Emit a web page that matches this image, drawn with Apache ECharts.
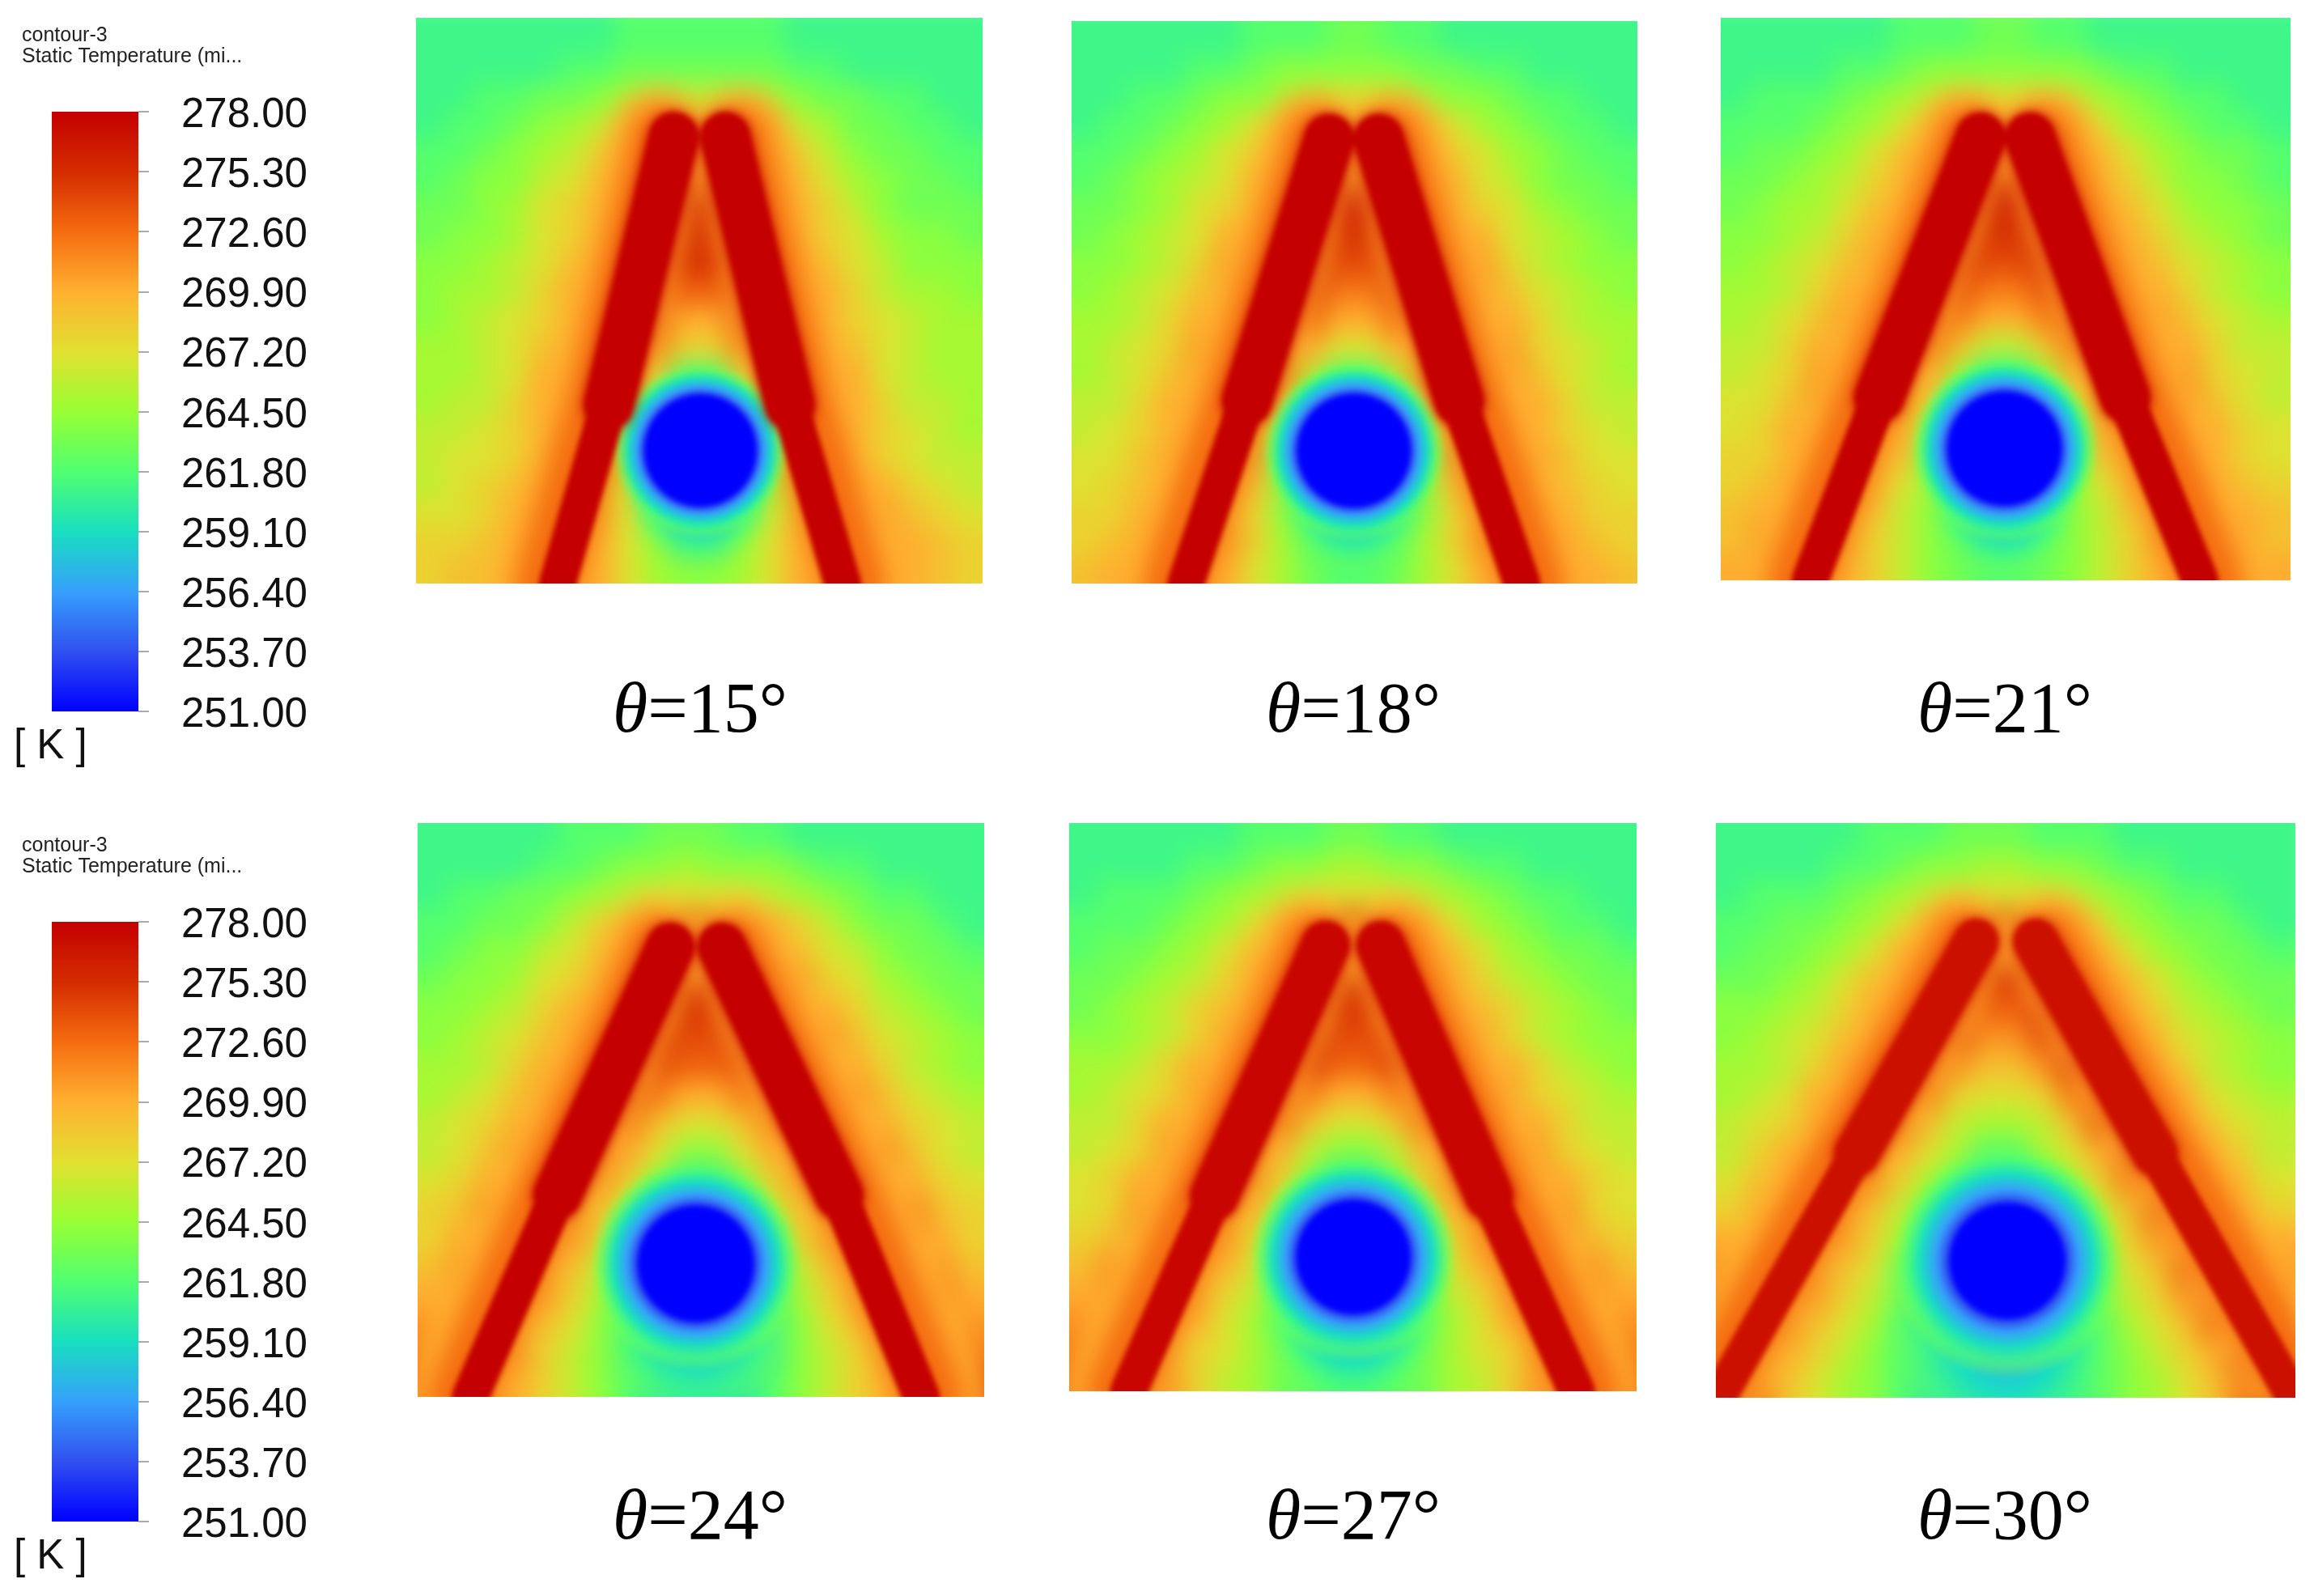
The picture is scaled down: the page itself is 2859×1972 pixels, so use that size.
<!DOCTYPE html>
<html>
<head>
<meta charset="utf-8">
<title>Static temperature contours</title>
<script src="https://cdn.jsdelivr.net/npm/echarts@6/dist/echarts.min.js"></script>
<style>
  html, body { margin: 0; padding: 0; background: #fff; }
  .layer { position: absolute; left: 0; top: 0; width: 2859px; height: 1972px; }
  #fieldLayer { filter: blur(15px); }
  #markLayer { filter: blur(3px); }
</style>
</head>
<body>
<div id="fieldLayer" class="layer"></div>
<div id="markLayer" class="layer"></div>
<div id="textLayer" class="layer"></div>
<script>
// ===== Data =====
const angles = [15, 18, 21, 24, 27, 30];
const tickValues = [278, 275.3, 272.6, 269.9, 267.2, 264.5, 261.8, 259.1, 256.4, 253.7, 251];
const tickColors = ['#c40000', '#d42c00', '#f56c10', '#ffb030', '#e2e030', '#98ff34', '#50ff70', '#18dfc0', '#36a0fc', '#3050f0', '#0000ff'];

// temperature cells, 20 rows of 20, top row first
const field15 = [
[261,261,261,261,261,261,261,262,262,262,262,262,262,261,261,261,261,261,261,261],
[261,261,261,261,261,262,262,263,263,263,263,263,263,262,262,261,261,261,261,261],
[261,261,262,262,263,263,264,265,266,266,266,266,265,264,263,263,262,262,261,261],
[261,262,262,263,264,265,266,268,272,275,275,272,268,266,265,263,263,262,262,261],
[262,262,263,264,265,266,268,271,278,278,278,278,271,268,266,264,263,263,262,262],
[262,263,264,264,266,267,269,273,278,278,277,278,273,269,267,265,264,263,263,262],
[263,263,264,265,267,268,270,275,278,276,276,278,275,270,268,266,264,263,263,263],
[263,264,264,265,267,268,272,277,278,275,275,278,277,272,268,267,265,264,264,263],
[264,264,265,266,267,269,273,278,278,275,275,278,278,273,269,267,266,264,264,264],
[264,265,265,266,268,270,274,278,276,273,273,276,278,274,270,268,266,265,265,264],
[264,265,266,267,268,270,276,278,274,270,270,274,278,276,270,268,267,266,265,265],
[265,265,266,267,269,272,277,278,272,268,268,272,278,277,272,269,267,266,265,265],
[265,265,266,267,270,273,278,278,268,262,262,268,278,278,273,270,267,266,265,265],
[265,266,266,268,270,273,278,277,263,253,253,263,277,278,273,270,268,266,266,265],
[266,266,267,268,270,273,278,267,254,251,251,254,267,278,273,270,268,267,266,265],
[266,267,267,268,270,275,278,264,252,251,251,252,264,278,277,271,268,267,266,266],
[266,267,268,269,271,277,277,266,255,251,251,255,265,274,278,273,270,268,267,266],
[267,267,268,270,273,278,272,267,261,255,255,261,266,270,278,276,271,269,268,267],
[268,268,269,270,274,278,270,267,264,260,260,264,267,270,277,278,272,270,269,268],
[268,269,269,271,275,278,270,267,265,264,264,265,267,270,277,278,273,270,269,268]];
const field18 = [
[261,261,261,261,261,261,262,262,262,263,263,262,262,261,261,261,261,261,261,261],
[261,261,261,261,262,262,263,264,264,264,264,264,263,263,262,262,261,261,261,261],
[261,261,262,262,263,264,264,265,266,267,267,266,265,264,264,263,262,262,261,261],
[261,262,262,263,264,265,267,269,273,275,275,273,269,267,265,264,263,262,262,261],
[262,262,263,264,265,267,268,272,278,278,278,278,272,268,267,265,264,263,262,262],
[262,263,264,265,266,267,270,274,278,278,277,278,274,270,267,266,264,263,263,262],
[263,263,264,265,267,268,272,277,278,277,277,278,277,272,268,267,265,264,263,263],
[263,264,265,266,267,270,274,278,278,275,275,278,278,274,270,267,266,265,264,263],
[264,264,265,266,268,271,276,278,277,274,274,277,278,276,271,268,266,265,264,264],
[264,265,266,267,269,272,277,278,275,272,272,275,278,277,272,269,267,266,265,264],
[265,265,266,268,270,274,278,277,273,270,270,273,277,278,274,270,268,266,265,265],
[265,266,267,268,271,276,278,276,270,267,267,270,276,278,276,271,268,267,266,265],
[265,266,267,269,272,277,278,273,266,262,262,266,273,278,277,272,269,267,266,265],
[266,266,268,270,273,278,278,270,262,254,254,262,270,278,278,273,270,268,266,266],
[266,267,268,270,275,278,276,266,255,251,251,255,266,276,278,275,270,268,267,266],
[267,267,269,271,277,278,271,263,252,251,251,252,263,271,278,277,271,269,267,267],
[267,268,269,272,278,278,269,264,255,251,251,255,264,269,278,278,272,269,268,267],
[268,268,270,274,278,276,268,264,260,255,255,260,264,268,276,278,274,270,268,268],
[268,269,271,276,278,272,268,265,262,260,260,262,265,268,272,278,276,271,269,268],
[269,270,272,277,278,270,267,265,263,262,262,263,265,267,270,278,277,272,270,269]];
const field21 = [
[261,261,261,261,261,261,262,262,262,263,263,262,262,261,261,261,261,261,261,261],
[261,261,261,261,262,262,263,264,264,264,264,264,264,263,262,262,261,261,261,261],
[261,262,262,262,263,264,265,266,267,267,267,267,266,265,264,263,262,262,261,261],
[262,262,262,263,264,265,267,270,273,275,275,273,270,267,265,264,263,262,262,261],
[262,263,263,264,265,267,269,272,278,278,278,278,272,269,267,265,264,263,263,262],
[263,263,264,265,266,268,270,276,278,278,277,278,276,270,268,266,264,264,263,262],
[263,264,265,265,267,269,272,278,278,276,276,278,278,272,269,267,265,264,264,263],
[264,264,265,266,268,270,275,278,278,275,275,278,278,275,270,268,266,265,264,263],
[264,265,266,267,269,272,277,278,276,274,274,276,278,277,272,269,267,266,265,264],
[265,265,266,268,270,274,278,278,274,272,272,274,278,278,274,270,268,266,265,264],
[265,266,267,269,271,276,278,276,272,270,270,272,276,278,276,271,269,267,266,265],
[266,266,268,270,273,278,278,273,269,266,266,269,273,278,278,273,270,268,266,266],
[266,267,268,271,275,278,276,270,265,261,261,265,270,276,278,275,271,268,267,266],
[267,267,269,272,277,278,272,268,261,254,254,261,267,272,278,277,272,269,267,266],
[267,268,270,274,278,277,270,265,256,251,251,256,264,270,277,278,274,270,268,267],
[268,268,270,276,278,273,269,263,253,251,251,253,263,269,273,278,276,270,268,267],
[268,269,272,277,278,270,267,264,256,251,251,256,264,267,270,278,277,272,269,268],
[269,270,274,278,277,269,266,264,260,255,255,260,264,266,269,277,278,274,270,269],
[269,271,276,278,272,268,266,264,262,259,259,262,264,266,268,272,278,276,271,269],
[270,272,277,278,270,268,266,264,263,262,262,263,264,266,268,270,278,277,272,270]];
const field24 = [
[261,261,261,261,261,262,262,262,263,263,263,262,262,261,261,261,261,261,261,261],
[261,261,261,261,262,262,263,264,264,265,264,264,264,263,262,262,261,261,261,261],
[261,262,262,263,263,264,265,266,267,267,267,267,266,265,264,263,262,262,261,261],
[262,262,263,263,264,266,268,270,274,275,275,274,270,268,266,264,263,263,262,261],
[262,263,264,264,266,267,269,274,278,278,278,278,274,269,267,266,264,263,263,262],
[263,264,264,265,267,268,272,277,278,276,276,278,277,272,268,267,265,264,263,263],
[264,264,265,266,268,270,275,278,278,275,275,278,278,275,270,268,266,265,264,263],
[264,265,266,267,269,272,278,278,276,274,274,276,278,278,272,269,267,266,265,264],
[265,265,266,268,270,275,278,278,274,273,273,274,278,278,275,270,268,266,265,264],
[265,266,267,269,272,277,278,275,272,270,270,272,275,278,277,272,269,267,266,265],
[266,267,268,270,274,278,278,272,269,267,267,269,272,278,278,274,270,268,267,266],
[266,267,269,272,276,278,274,270,267,264,264,267,270,274,278,276,272,269,267,266],
[267,268,270,274,278,278,271,268,264,260,260,264,268,271,278,278,274,270,268,267],
[268,269,272,276,278,274,269,266,260,254,254,260,266,269,274,278,276,272,269,268],
[268,270,274,278,278,271,268,263,255,251,251,255,263,268,271,278,278,274,270,268],
[269,271,276,278,274,269,266,261,252,251,251,252,261,266,269,274,278,276,271,269],
[270,273,278,278,271,268,265,261,255,251,251,255,261,265,268,271,278,278,273,270],
[271,275,278,275,269,267,264,261,258,255,255,258,261,264,267,269,275,278,275,271],
[272,277,278,272,268,266,264,261,259,258,258,259,261,264,266,268,272,278,277,272],
[274,278,277,270,268,266,264,262,260,259,259,260,262,264,266,268,270,277,278,274]];
const field27 = [
[261,261,261,261,261,261,262,262,262,263,263,262,262,261,261,261,261,261,261,261],
[261,261,261,261,262,262,263,264,264,265,265,264,264,263,262,262,261,261,261,261],
[261,262,262,262,263,264,265,266,267,267,267,267,266,265,264,263,262,262,261,261],
[262,262,262,263,264,265,267,270,275,276,276,275,270,267,265,264,263,262,262,261],
[262,263,263,264,265,267,269,274,278,278,278,278,274,269,267,265,264,263,263,262],
[263,263,264,265,266,268,271,277,278,276,276,278,277,271,268,266,265,264,263,263],
[263,264,265,266,268,269,273,278,278,275,275,278,278,273,269,268,266,265,264,263],
[264,264,265,266,268,271,277,278,277,274,274,277,278,277,271,268,266,265,264,264],
[265,265,266,268,270,273,278,278,275,273,273,275,278,278,273,270,268,266,265,264],
[265,266,267,268,271,276,278,276,272,270,270,272,276,278,276,271,268,267,266,265],
[266,266,268,270,273,278,278,273,269,267,267,269,273,278,278,273,270,268,266,266],
[266,267,268,271,275,278,275,270,266,264,264,266,270,275,278,275,271,268,267,266],
[267,268,270,273,278,278,272,268,264,260,260,264,268,272,278,278,273,270,268,267],
[267,268,271,275,278,275,270,266,260,254,254,260,266,270,275,278,275,271,268,267],
[268,269,273,278,278,272,268,264,256,251,251,256,264,268,272,278,278,273,269,268],
[269,271,275,278,275,270,267,262,253,251,251,253,262,267,270,275,278,275,271,269],
[270,272,277,278,272,268,266,262,256,251,251,256,262,266,268,272,278,277,272,270],
[271,274,278,276,270,267,265,262,259,255,255,259,262,265,267,270,276,278,274,271],
[272,276,278,273,268,267,265,263,261,259,259,261,263,265,267,268,273,278,276,272],
[273,278,278,271,268,266,265,263,262,261,261,262,263,265,266,268,271,278,278,273]];
const field30 = [
[261,261,261,261,261,262,262,262,263,263,263,262,262,262,261,261,261,261,261,261],
[261,261,261,261,262,262,263,264,264,265,265,264,264,263,262,262,261,261,261,261],
[261,262,262,262,263,264,265,266,267,267,267,267,266,265,264,263,262,262,261,261],
[262,262,263,263,264,265,267,270,274,276,276,274,270,267,265,264,263,263,262,261],
[262,263,263,264,265,267,270,275,278,277,277,278,275,270,267,265,264,263,263,262],
[263,263,264,265,267,269,272,278,278,275,275,278,278,272,269,267,265,264,263,263],
[264,264,265,266,268,270,276,278,277,273,273,277,278,276,270,268,266,265,264,263],
[264,265,266,267,269,273,278,278,274,271,271,274,278,278,273,269,267,266,265,264],
[265,265,266,268,271,276,278,276,271,269,269,271,276,278,276,271,268,266,265,264],
[265,266,267,270,273,278,278,272,268,267,267,268,272,278,278,273,270,267,266,265],
[266,267,268,271,276,278,274,269,266,265,265,266,269,274,278,276,271,268,267,266],
[266,268,270,274,278,277,270,267,265,262,262,265,267,270,277,278,274,270,268,266],
[267,269,272,277,278,272,268,265,262,259,259,262,265,268,272,278,277,272,269,267],
[268,270,275,278,275,269,266,263,259,254,254,259,263,266,269,275,278,275,270,268],
[270,273,277,278,271,268,265,261,255,251,251,255,261,265,268,271,278,277,273,270],
[271,275,278,274,269,267,263,259,253,251,251,253,259,263,267,269,274,278,275,271],
[273,278,277,271,268,266,263,259,255,251,251,255,259,263,266,268,271,277,278,273],
[276,278,273,269,267,265,262,259,257,255,255,257,259,262,265,267,269,273,278,276],
[278,276,270,268,266,264,262,260,258,257,257,258,260,262,264,266,268,270,276,278],
[278,272,269,267,265,264,262,260,259,258,258,259,260,262,264,265,267,269,272,278]];
const fields = [field15, field18, field21, field24, field27, field30];

// heated bars, as fractions of the panel (x from left, y from top)
const armTopY = [0.211, 0.21, 0.213, 0.216, 0.215, 0.206];
const kneeY = [0.684, 0.675, 0.675, 0.648, 0.656, 0.575];
const leftTopX = [0.455, 0.455, 0.456, 0.446, 0.452, 0.449];
const leftKneeX = [0.34, 0.31, 0.278, 0.247, 0.256, 0.243];
const leftBottomX = [0.25, 0.202, 0.157, 0.093, 0.105, 0.005];
const rightTopX = [0.546, 0.543, 0.543, 0.537, 0.549, 0.552];
const rightKneeX = [0.66, 0.685, 0.71, 0.744, 0.74, 0.758];
const rightBottomX = [0.753, 0.796, 0.841, 0.889, 0.894, 0.997];
const armColors = ['#c40000', '#c40000', '#c40000', '#c40000', '#c80500', '#cc1000'];

// cold tube, the cold ring round it and the cold tail under it
const tubeX = [0.502, 0.499, 0.498, 0.491, 0.501, 0.503];
const tubeY = [0.765, 0.764, 0.766, 0.768, 0.764, 0.762];
const tubeDiameter = [0.194, 0.196, 0.195, 0.199, 0.195, 0.193];
const ringRatio = [1.6, 1.65, 1.7, 1.9, 1.9, 2.1];
const tailY = [0.845, 0.85, 0.855, 0.87, 0.87, 0.9];
const tailDiameter = [0.26, 0.27, 0.28, 0.34, 0.34, 0.4];

// ===== Layout =====
const panelLeft = [514, 1324, 2126, 516, 1321, 2120];
const panelTop = [22, 26, 22, 1017, 1017, 1017];
const panelRight = [1214, 2023, 2830, 1216, 2022, 2836];
const panelBottom = [721, 721, 717, 1726, 1719, 1727];
const captionX = [865, 1672, 2477, 865, 1672, 2477];
const captionTop = [837, 837, 837, 1834, 1834, 1834];
const upperWidth = [62, 62, 62, 60, 60, 56];
const lowerWidth = [46, 46, 46, 46, 46, 44];
const legendOffset = [0, 1001];

// ===== Field layer =====
const CELLS = 20;
function padded(rows) {
  // one repeated cell round the edge, so the blur does not fade into white at the panel border
  const wide = rows.map(r => [r[0], ...r, r[CELLS - 1]]);
  return [wide[0], ...wide, wide[CELLS - 1]];
}
const cellIndex = Array.from({ length: CELLS + 2 }, (_, i) => i);

// soft glow next to a bar, pushed outward by shift (negative for the left bar)
function glowSeries(axis, i, xs, ys, shift, width, color) {
  return {
    type: 'line', xAxisIndex: axis, yAxisIndex: axis, showSymbol: false, clip: false, silent: true, z: 5,
    data: xs.map((x, k) => [x + shift, ys[k]]),
    lineStyle: { color, width, cap: 'round' }
  };
}

function buildFieldOption() {
  const grid = [], xAxis = [], yAxis = [], series = [];
  angles.forEach((a, i) => {
    const cw = (panelRight[i] - panelLeft[i]) / CELLS;
    const ch = (panelBottom[i] - panelTop[i]) / CELLS;
    grid.push({
      left: panelLeft[i] - cw, top: panelTop[i] - ch,
      width: panelRight[i] - panelLeft[i] + 2 * cw,
      height: panelBottom[i] - panelTop[i] + 2 * ch
    });
    xAxis.push({ type: 'category', gridIndex: i, data: cellIndex, show: false });
    yAxis.push({ type: 'category', gridIndex: i, data: cellIndex, show: false, inverse: true });
    const cells = [];
    padded(fields[i]).forEach((row, r) => row.forEach((v, c) => cells.push([c, r, v])));
    series.push({
      type: 'heatmap', xAxisIndex: i, yAxisIndex: i, data: cells,
      progressive: 0, silent: true,
      itemStyle: { borderWidth: 0 }
    });
  });
  angles.forEach((a, i) => {
    const axis = angles.length + i;
    grid.push({ left: panelLeft[i], top: panelTop[i], width: panelRight[i] - panelLeft[i], height: panelBottom[i] - panelTop[i] });
    xAxis.push({ type: 'value', gridIndex: axis, min: 0, max: 1, show: false });
    yAxis.push({ type: 'value', gridIndex: axis, min: 0, max: 1, show: false, inverse: true });
    const upY = [armTopY[i], kneeY[i]], lowY = [kneeY[i], 1];
    const upL = [leftTopX[i], leftKneeX[i]], lowL = [leftKneeX[i], leftBottomX[i]];
    const upR = [rightTopX[i], rightKneeX[i]], lowR = [rightKneeX[i], rightBottomX[i]];
    [[-0.03, 0.03, 120, '#ffb030'], [-0.02, 0.02, 78, '#f56c10']].forEach(([sl, sr, w, c]) => {
      series.push(glowSeries(axis, i, lowL, lowY, sl, w, c));
      series.push(glowSeries(axis, i, lowR, lowY, sr, w, c));
      series.push(glowSeries(axis, i, upL, upY, sl, w, c));
      series.push(glowSeries(axis, i, upR, upY, sr, w, c));
    });
  });
  return {
    animation: false, grid, xAxis, yAxis, series,
    visualMap: {
      show: false, type: 'continuous', min: 251, max: 278,
      seriesIndex: angles.map((a, i) => i),
      inRange: { color: tickColors.slice().reverse() }
    }
  };
}

// ===== Mark layer =====
function armSeries(i, xs, ys, width, soft) {
  return {
    type: 'line', xAxisIndex: i, yAxisIndex: i, showSymbol: false, clip: false, silent: true, z: 3,
    data: xs.map((x, k) => [x, ys[k]]),
    lineStyle: { color: armColors[i], width, cap: 'round', shadowColor: armColors[i], shadowBlur: soft }
  };
}

function ringGradient(ratio) {
  const edge = 1 / ratio;
  const at = k => edge + (1 - edge) * k;
  return {
    type: 'radial', x: 0.5, y: 0.5, r: 0.5,
    colorStops: [
      { offset: 0, color: '#0000ff' },
      { offset: edge, color: '#0000ff' },
      { offset: at(0.08), color: '#3050f0' },
      { offset: at(0.25), color: '#36a0fc' },
      { offset: at(0.5), color: '#18dfc0' },
      { offset: at(0.75), color: 'rgba(80,255,112,0.7)' },
      { offset: 1, color: 'rgba(152,255,52,0)' }
    ]
  };
}

const tailGradient = {
  type: 'radial', x: 0.5, y: 0.5, r: 0.5,
  colorStops: [
    { offset: 0, color: 'rgba(54,160,252,1)' },
    { offset: 0.45, color: 'rgba(24,223,192,0.9)' },
    { offset: 0.75, color: 'rgba(80,255,112,0.55)' },
    { offset: 1, color: 'rgba(152,255,52,0)' }
  ]
};

function buildMarkOption() {
  const grid = [], xAxis = [], yAxis = [], series = [];
  angles.forEach((a, i) => {
    const w = panelRight[i] - panelLeft[i];
    grid.push({ left: panelLeft[i], top: panelTop[i], width: w, height: panelBottom[i] - panelTop[i] });
    xAxis.push({ type: 'value', gridIndex: i, min: 0, max: 1, show: false });
    yAxis.push({ type: 'value', gridIndex: i, min: 0, max: 1, show: false, inverse: true });
    series.push({
      type: 'scatter', xAxisIndex: i, yAxisIndex: i, silent: true, z: 1,
      data: [[tubeX[i], tailY[i]]],
      symbol: 'circle', symbolSize: tailDiameter[i] * w,
      itemStyle: { color: tailGradient, opacity: 1 }
    });
    series.push({
      type: 'scatter', xAxisIndex: i, yAxisIndex: i, silent: true, z: 2,
      data: [[tubeX[i], tubeY[i]]],
      symbol: 'circle', symbolSize: tubeDiameter[i] * w * ringRatio[i],
      itemStyle: { color: ringGradient(ringRatio[i]), opacity: 1 }
    });
    series.push(armSeries(i, [leftTopX[i], leftKneeX[i]], [armTopY[i], kneeY[i]], upperWidth[i], 14));
    series.push(armSeries(i, [leftKneeX[i], leftBottomX[i]], [kneeY[i], 1], lowerWidth[i], 0));
    series.push(armSeries(i, [rightTopX[i], rightKneeX[i]], [armTopY[i], kneeY[i]], upperWidth[i], 14));
    series.push(armSeries(i, [rightKneeX[i], rightBottomX[i]], [kneeY[i], 1], lowerWidth[i], 0));
    series.push({
      type: 'scatter', xAxisIndex: i, yAxisIndex: i, silent: true, z: 4,
      data: [[tubeX[i], tubeY[i]]],
      symbol: 'circle', symbolSize: tubeDiameter[i] * w,
      itemStyle: { color: '#0000ff', opacity: 1 }
    });
  });
  return { animation: false, grid, xAxis, yAxis, series };
}

// ===== Text layer (colour bars and labels) =====
function buildTextOption() {
  const grid = [], xAxis = [], yAxis = [], series = [], title = [];
  const gradient = tickColors.map((color, k) => ({ offset: k / (tickColors.length - 1), color }));
  legendOffset.forEach((dy, i) => {
    const bar = i * 2, labels = i * 2 + 1;
    grid.push({ left: 64, top: 138 + dy, width: 107, height: 741 });
    xAxis.push({ type: 'category', gridIndex: bar, data: ['T'], show: false });
    yAxis.push({
      type: 'value', gridIndex: bar, min: 251, max: 278, position: 'right',
      splitLine: { show: false },
      axisLine: { show: false },
      axisLabel: { show: false },
      axisTick: { show: true, length: 13, customValues: tickValues, lineStyle: { color: '#aaa', width: 2 } }
    });
    series.push({
      type: 'bar', xAxisIndex: bar, yAxisIndex: bar, data: [278], barWidth: '100%', silent: true,
      itemStyle: { color: { type: 'linear', x: 0, y: 0, x2: 0, y2: 1, colorStops: gradient } }
    });
    // labels sit a few pixels under their ticks in the picture, so they get their own axis
    grid.push({ left: 64, top: 143 + dy, width: 107, height: 741 });
    xAxis.push({ type: 'category', gridIndex: labels, data: ['T'], show: false });
    yAxis.push({
      type: 'value', gridIndex: labels, min: 251, max: 278, position: 'right',
      splitLine: { show: false },
      axisLine: { show: false },
      axisTick: { show: false },
      axisLabel: {
        show: true, margin: 53, customValues: tickValues, color: '#111',
        fontFamily: 'Liberation Sans', fontSize: 51,
        formatter: v => Number(v).toFixed(2)
      }
    });
    const sans = { fontFamily: 'Liberation Sans', fontWeight: 'normal', color: '#222' };
    title.push({ text: 'contour-3', left: 27, top: 32 + dy, padding: 0, textStyle: { ...sans, fontSize: 25 } });
    title.push({ text: 'Static Temperature (mi...', left: 27, top: 58 + dy, padding: 0, textStyle: { ...sans, fontSize: 25 } });
    title.push({ text: '[ K ]', left: 17, top: 897 + dy, padding: 0, textStyle: { ...sans, fontSize: 51, color: '#111' } });
  });
  angles.forEach((a, i) => {
    title.push({
      text: '{i|θ}{n|=' + a + '°}',
      left: captionX[i], top: captionTop[i], textAlign: 'center', padding: 0,
      textStyle: {
        fontWeight: 'normal',
        rich: {
          i: { fontFamily: 'Liberation Serif', fontStyle: 'italic', fontWeight: 'normal', fontSize: 88, color: '#000' },
          n: { fontFamily: 'Liberation Serif', fontWeight: 'normal', fontSize: 88, color: '#000' }
        }
      }
    });
  });
  return { animation: false, grid, xAxis, yAxis, series, title };
}

// ===== Go =====
const clipPath = angles.map((a, i) =>
  `M${panelLeft[i]} ${panelTop[i]}H${panelRight[i]}V${panelBottom[i]}H${panelLeft[i]}Z`).join(' ');
['fieldLayer', 'markLayer'].forEach(id => {
  document.getElementById(id).style.clipPath = `path("${clipPath}")`;
});
echarts.init(document.getElementById('fieldLayer')).setOption(buildFieldOption());
echarts.init(document.getElementById('markLayer')).setOption(buildMarkOption());
echarts.init(document.getElementById('textLayer')).setOption(buildTextOption());
</script>
</body>
</html>
